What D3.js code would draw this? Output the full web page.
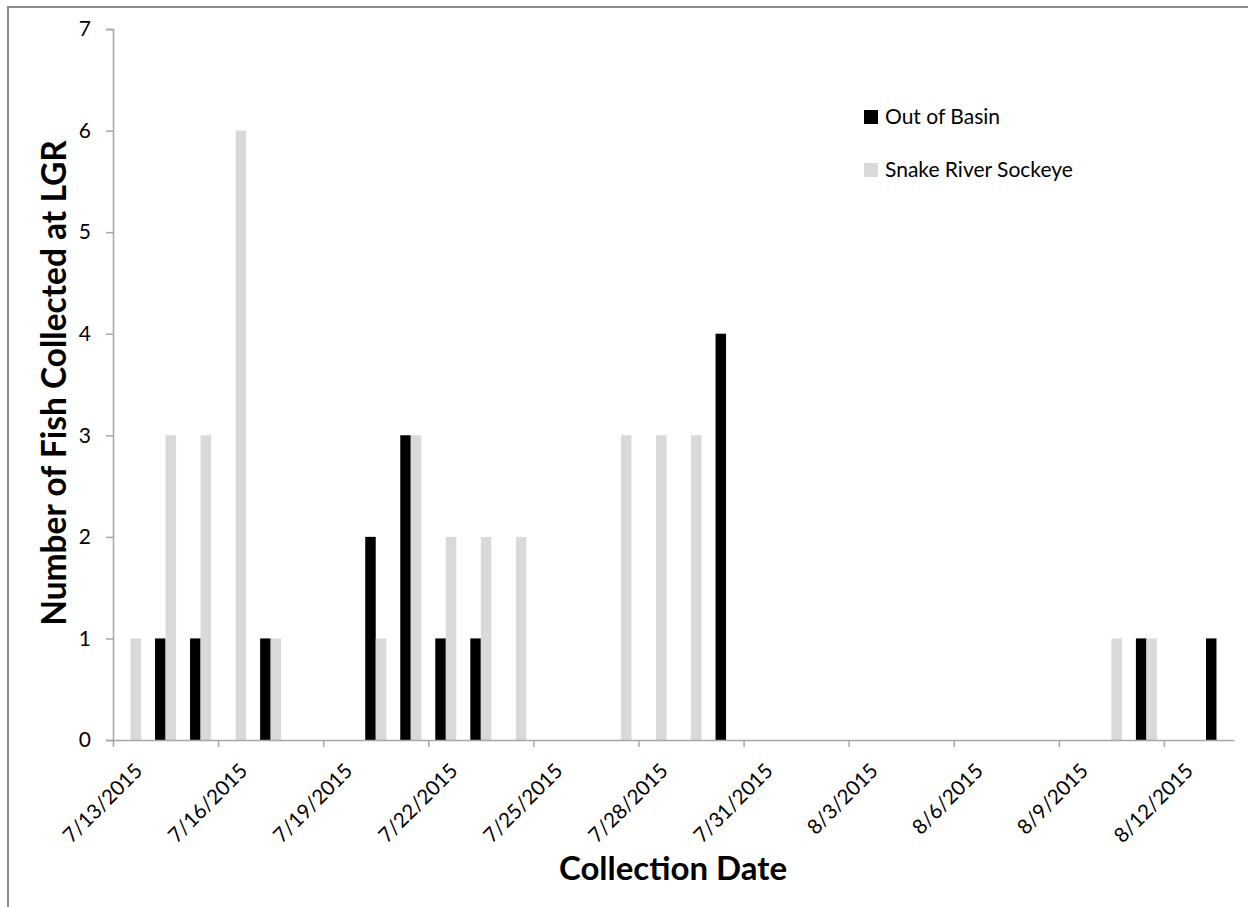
<!DOCTYPE html>
<html>
<head>
<meta charset="utf-8">
<script src="https://cdn.jsdelivr.net/npm/d3@7"></script>
<style>
  body { margin: 0; background: #fff; }
  svg { display: block; font-family: Lato, "Open Sans", sans-serif; }
</style>
</head>
<body>
<div id="chart"></div>
<script>
// Days with at least one fish collected at LGR
const collectionDates = [
  "2015-07-13", "2015-07-14", "2015-07-15", "2015-07-16", "2015-07-17",
  "2015-07-20", "2015-07-21", "2015-07-22", "2015-07-23", "2015-07-24",
  "2015-07-27", "2015-07-28", "2015-07-29", "2015-07-30",
  "2015-08-10", "2015-08-11", "2015-08-13"
]
const outOfBasin        = [0, 1, 1, 0, 1, 2, 3, 1, 1, 0, 0, 0, 0, 4, 0, 1, 1]
const snakeRiverSockeye = [1, 3, 3, 6, 1, 1, 3, 2, 2, 2, 3, 3, 3, 0, 1, 1, 0]
const seriesNames = ["Out of Basin", "Snake River Sockeye"]
const seriesColors = ["#000000", "#d9d9d9"]
const xDomain = ["2015-07-13", "2015-08-14"]
const xTickDates = [
  "2015-07-13", "2015-07-16", "2015-07-19", "2015-07-22", "2015-07-25", "2015-07-28",
  "2015-07-31", "2015-08-03", "2015-08-06", "2015-08-09", "2015-08-12"
]
const yTicks = [0, 1, 2, 3, 4, 5, 6, 7]

const width = 1248, height = 907
const margin = { top: 29, right: 14, bottom: 167, left: 113 }
const parse = d3.timeParse("%Y-%m-%d")
const fmt = d3.timeFormat("%-m/%-d/%Y")
const axisColor = "#a6a6a6"
const fontFamily = 'Lato, "Open Sans", sans-serif'

const svg = d3.select("#chart").append("svg")
  .attr("width", width)
  .attr("height", height)

// chart area border (right and bottom edges fall outside the picture)
svg.append("rect")
  .attr("x", 8).attr("y", 7)
  .attr("width", width + 20).attr("height", height + 20)
  .style("fill", "none")
  .style("stroke", "#8c8c8c")
  .style("stroke-width", 2)

const x = d3.scaleTime()
  .domain(xDomain.map(parse))
  .range([margin.left, width - margin.right])

const y = d3.scaleLinear()
  .domain([0, 7])
  .range([height - margin.bottom, margin.top])

const rows = collectionDates.map((d, i) => ({
  date: parse(d),
  values: [outOfBasin[i], snakeRiverSockeye[i]]
}))

const dayWidth = x(d3.timeDay.offset(x.domain()[0], 1)) - x(x.domain()[0])
const barWidth = dayWidth * 0.3

// Bars: black left of day centre, grey right of it
const groups = svg.append("g").selectAll("g")
  .data(rows)
  .join("g")

groups.selectAll("rect")
  .data(d => d.values.map((v, k) => ({ date: d.date, value: v, k })).filter(d => d.value > 0))
  .join("rect")
  .attr("x", d => {
    const c = (x(d.date) + x(d3.timeDay.offset(d.date, 1))) / 2
    return d.k === 0 ? c - barWidth : c
  })
  .attr("y", d => y(d.value))
  .attr("width", barWidth)
  .attr("height", d => y(0) - y(d.value))
  .style("fill", d => seriesColors[d.k])

// Y axis
const yAxis = svg.append("g")
  .attr("transform", `translate(${margin.left},0)`)
  .call(d3.axisLeft(y).tickValues(yTicks).tickSize(7).tickPadding(15).tickFormat(d3.format("d")))
yAxis.attr("font-family", fontFamily)
yAxis.select(".domain").attr("stroke", axisColor).attr("stroke-width", 1.5)
yAxis.selectAll(".tick line").attr("stroke", axisColor).attr("stroke-width", 1.5)
yAxis.selectAll("text")
  .style("font-size", "21px")
  .style("fill", "#000")

// X axis
const xAxis = svg.append("g")
  .attr("transform", `translate(0,${y(0)})`)
  .call(d3.axisBottom(x).tickValues(xTickDates.map(parse)).tickSize(7).tickSizeOuter(0).tickFormat(fmt))
xAxis.attr("font-family", fontFamily)
xAxis.select(".domain").attr("stroke", axisColor).attr("stroke-width", 1.5)
xAxis.selectAll(".tick line").attr("stroke", axisColor).attr("stroke-width", 1.5)
xAxis.selectAll("text")
  .attr("y", null)
  .attr("text-anchor", "end")
  .attr("transform", "translate(25,27) rotate(-45)")
  .attr("dy", "0.35em")
  .style("font-size", "20.5px")
  .style("fill", "#000")

// Axis titles
svg.append("text")
  .attr("x", 673)
  .attr("y", 880)
  .attr("text-anchor", "middle")
  .text("Collection Date")
  .style("font-size", "33px")
  .style("font-weight", "bold")

svg.append("text")
  .attr("transform", "translate(66,383) rotate(-90)")
  .attr("text-anchor", "middle")
  .text("Number of Fish Collected at LGR")
  .style("font-size", "33.5px")
  .style("font-weight", "bold")

// Legend
const legend = svg.append("g")
  .attr("transform", "translate(864,110)")
seriesNames.forEach((name, i) => {
  const row = legend.append("g").attr("transform", `translate(0,${i * 53})`)
  row.append("rect")
    .attr("width", 14).attr("height", 14)
    .style("fill", seriesColors[i])
  row.append("text")
    .attr("x", 21)
    .attr("y", 14)
    .text(name)
    .style("font-size", "21px")
    .style("fill", "#000")
})
</script>
</body>
</html>
